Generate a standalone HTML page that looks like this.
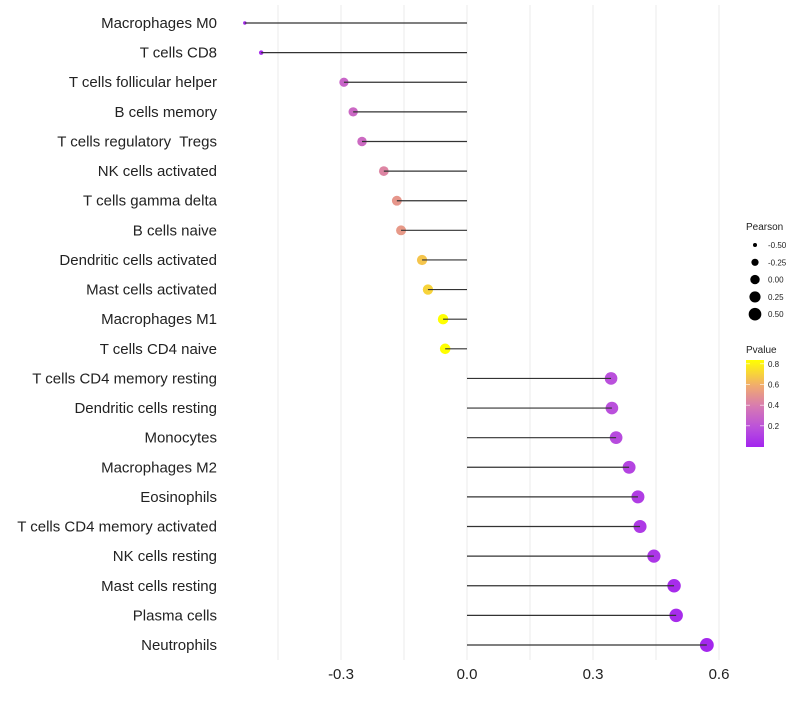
<!DOCTYPE html>
<html><head><meta charset="utf-8"><style>
body{margin:0;background:#fff;font-family:"Liberation Sans",sans-serif;}
svg text{font-family:"Liberation Sans",sans-serif;white-space:pre;}
</style></head><body>
<svg id="chart" width="800" height="700"></svg>
<script>
const categories=["Macrophages M0","T cells CD8","T cells follicular helper","B cells memory","T cells regulatory\u00a0 Tregs","NK cells activated","T cells gamma delta","B cells naive","Dendritic cells activated","Mast cells activated","Macrophages M1","T cells CD4 naive","T cells CD4 memory resting","Dendritic cells resting","Monocytes","Macrophages M2","Eosinophils","T cells CD4 memory activated","NK cells resting","Mast cells resting","Plasma cells","Neutrophils"];
const pearson=[-0.529,-0.49,-0.293,-0.271,-0.25,-0.198,-0.167,-0.157,-0.107,-0.093,-0.057,-0.052,0.343,0.345,0.355,0.386,0.407,0.412,0.445,0.493,0.498,0.571];
const pvalue=[0.03,0.04,0.3,0.32,0.33,0.45,0.52,0.53,0.68,0.72,0.85,0.86,0.2,0.2,0.18,0.15,0.12,0.11,0.09,0.05,0.05,0.03];
const xTicks=[-0.3,0.0,0.3,0.6];
const xTickLabels=["-0.3","0.0","0.3","0.6"];
const sizeLegend=[-0.5,-0.25,0,0.25,0.5];
const sizeLegendLabels=["-0.50","-0.25","0.00","0.25","0.50"];
const pLegend=[0.2,0.4,0.6,0.8];
const NS="http://www.w3.org/2000/svg";
const svg=document.getElementById('chart');
const x=v=>467+v*420;
const y=i=>23+i*(622/21);
const r=v=>v>=-0.3?5.4+2.7*v:Math.max(1.5,4.6+12.5*(v+0.3));
const rLeg=v=>Math.sqrt(22+36*v);
const stops=[[0,[160,32,240]],[0.2,[186,80,220]],[0.4,[214,120,180]],[0.6,[240,170,112]],[0.85,[255,255,0]]];
function col(p){p=Math.max(0,Math.min(0.85,p));for(let k=0;k<stops.length-1;k++){const a=stops[k],b=stops[k+1];if(p<=b[0]){const t=(p-a[0])/(b[0]-a[0]);return 'rgb('+a[1].map((c,j)=>Math.round(c+(b[1][j]-c)*t)).join(',')+')';}}return 'rgb(255,255,0)';}
function mk(tag,attrs,parent){const e=document.createElementNS(NS,tag);for(const k in attrs)e.setAttribute(k,attrs[k]);(parent||svg).appendChild(e);return e;}
for(let g=-0.45;g<=0.61;g+=0.15){
 const l=mk('line',{x1:x(g),x2:x(g),y1:5,y2:660,stroke:'#ebebeb','stroke-width':1});
 
 
}
xTicks.forEach((t,i)=>{
 const tx=mk('text',{x:x(t),y:679,'text-anchor':'middle','font-size':15,fill:'#222'});
 tx.textContent=xTickLabels[i];
 
 
});
categories.forEach((c,i)=>{
 const tx=mk('text',{x:217,y:y(i)+5,'text-anchor':'end','font-size':15,fill:'#222'});
 tx.textContent=c;
 
 
 const pt=mk('circle',{cx:x(pearson[i]),cy:y(i),r:r(pearson[i]),fill:col(pvalue[i])});
 
 
 const ln=mk('line',{x1:x(0),x2:x(pearson[i]),y1:y(i),y2:y(i),stroke:'#333','stroke-width':1.2});
 
 
});
const lt=mk('text',{x:746,y:230,'font-size':10,fill:'#222'});lt.textContent='Pearson';


sizeLegend.forEach((v,i)=>{
 const cy=245+i*17.3;
 const c=mk('circle',{cx:755,cy:cy,r:rLeg(v),fill:'#000'});
 
 
 const t=mk('text',{x:768,y:cy+3,'font-size':8,fill:'#222'});t.textContent=sizeLegendLabels[i];
 
 
});
const pt2=mk('text',{x:746,y:353,'font-size':10,fill:'#222'});pt2.textContent='Pvalue';


const defs=mk('defs',{});
const gr=mk('linearGradient',{id:'pg',x1:0,y1:1,x2:0,y2:0},defs);
for(let k=0;k<=20;k++){const p=0.02+k*(0.85-0.02)/20;mk('stop',{offset:k/20,'stop-color':col(p)},gr);}
const bar=mk('rect',{x:746,y:360,width:18,height:87,fill:'url(#pg)'});


const py=p=>447-(p-0.0)*(62/0.6)-0.5;
pLegend.forEach(p=>{
 mk('line',{x1:746,x2:750,y1:py(p),y2:py(p),stroke:'#fff','stroke-width':0.6});
 mk('line',{x1:760,x2:764,y1:py(p),y2:py(p),stroke:'#fff','stroke-width':0.6});
 const t=mk('text',{x:768,y:py(p)+3,'font-size':8,fill:'#222'});t.textContent=p.toFixed(1);
 
 
});
</script>
</body></html>
